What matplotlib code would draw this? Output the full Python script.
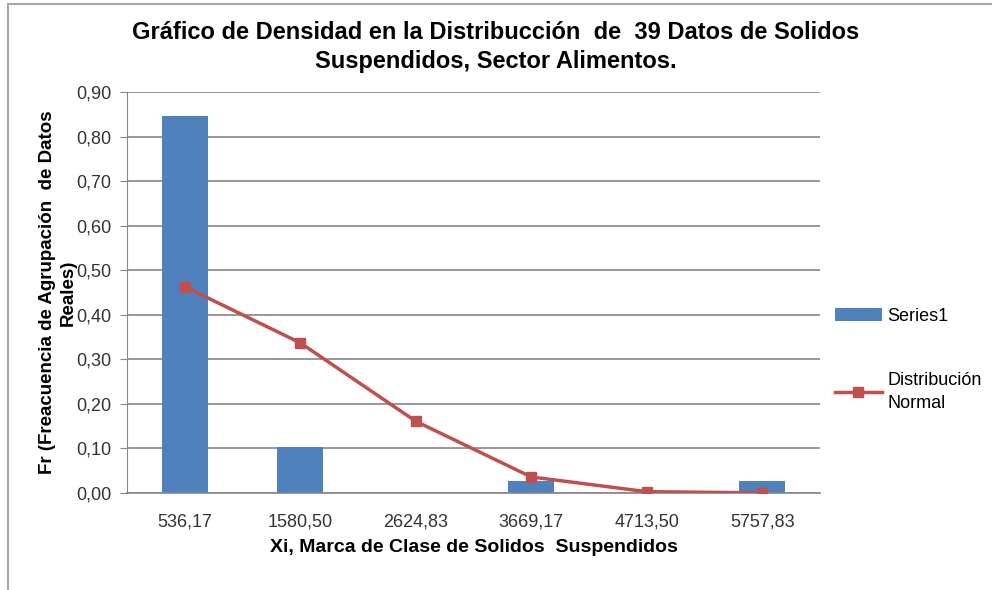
import matplotlib
matplotlib.use("Agg")
from matplotlib import pyplot as plt
from matplotlib.patches import Rectangle
import numpy as np

plt.rcParams['font.family'] = ['Liberation Sans', 'DejaVu Sans']

# datos
clases = ['536,17', '1580,50', '2624,83', '3669,17', '4713,50', '5757,83']
fr_reales = [0.846, 0.103, 0.0, 0.026, 0.0, 0.026]
dist_normal = [0.463, 0.337, 0.161, 0.036, 0.003, 0.0003]
yticks = [0.0, 0.1, 0.2, 0.3, 0.4, 0.5, 0.6, 0.7, 0.8, 0.9]

azul = '#4F81BD'
rojo = '#C0504D'
gris = '#868686'

fig = plt.figure(figsize=(9.92, 5.9), dpi=100)
ax = fig.add_axes([127/992, 1-493/590, 693/992, 401/590])

x = np.arange(len(clases))
barras = ax.bar(x, fr_reales, width=0.4, color=azul, label='Series1', zorder=2)
linea, = ax.plot(x, dist_normal, color=rojo, lw=2.5, marker='s', ms=7,
                 label='Distribución\nNormal', zorder=3)

ax.set_xlim(-0.5, len(clases) - 0.5)
ax.set_ylim(0, 0.9)
ax.set_yticks(yticks)
ax.set_yticklabels([f'{v:.2f}'.replace('.', ',') for v in yticks], fontsize=13, color='#333333')
ax.set_xticks(x)
ax.set_xticklabels(clases, fontsize=13, color='#333333')
ax.tick_params(axis='x', length=0, pad=15)
ax.tick_params(axis='y', length=5, color=gris, pad=6)

ax.yaxis.grid(True, color=gris, lw=1.2, zorder=0)
ax.set_axisbelow(True)
for s in ['top', 'right']:
    ax.spines[s].set_visible(False)
ax.spines['left'].set_color(gris)
ax.spines['bottom'].set_color(gris)
ax.spines['bottom'].set_linewidth(1.2)

ax.set_xlabel('Xi, Marca de Clase de Solidos  Suspendidos', fontsize=14,
              fontweight='bold', labelpad=6)
ax.set_ylabel('Fr (Freacuencia de Agrupación  de Datos\nReales)', fontsize=13.5,
              fontweight='bold', labelpad=0, linespacing=1.25)

fig.text(0.5, 1-47/590, 'Gráfico de Densidad en la Distribucción  de  39 Datos de Solidos\nSuspendidos, Sector Alimentos.',
         ha='center', va='center', fontsize=17, fontweight='bold', linespacing=1.3)

leg = fig.legend([barras, linea], ['Series1', 'Distribución\nNormal'],
                 loc='center left', bbox_to_anchor=(835/992, 1-360/590), frameon=False,
                 fontsize=13, labelspacing=2.6, handlelength=2.6, handletextpad=0.3,
                 borderaxespad=0, borderpad=0)
leg.get_texts()[1].set_linespacing(1.45)

# borde del grafico
fig.patches.append(Rectangle((8/992, -0.1), 1.2, 1.1 - 4/590, transform=fig.transFigure,
                             fill=False, edgecolor='#A6A6A6', lw=1.5))

fig.savefig('out.png', dpi=100)
